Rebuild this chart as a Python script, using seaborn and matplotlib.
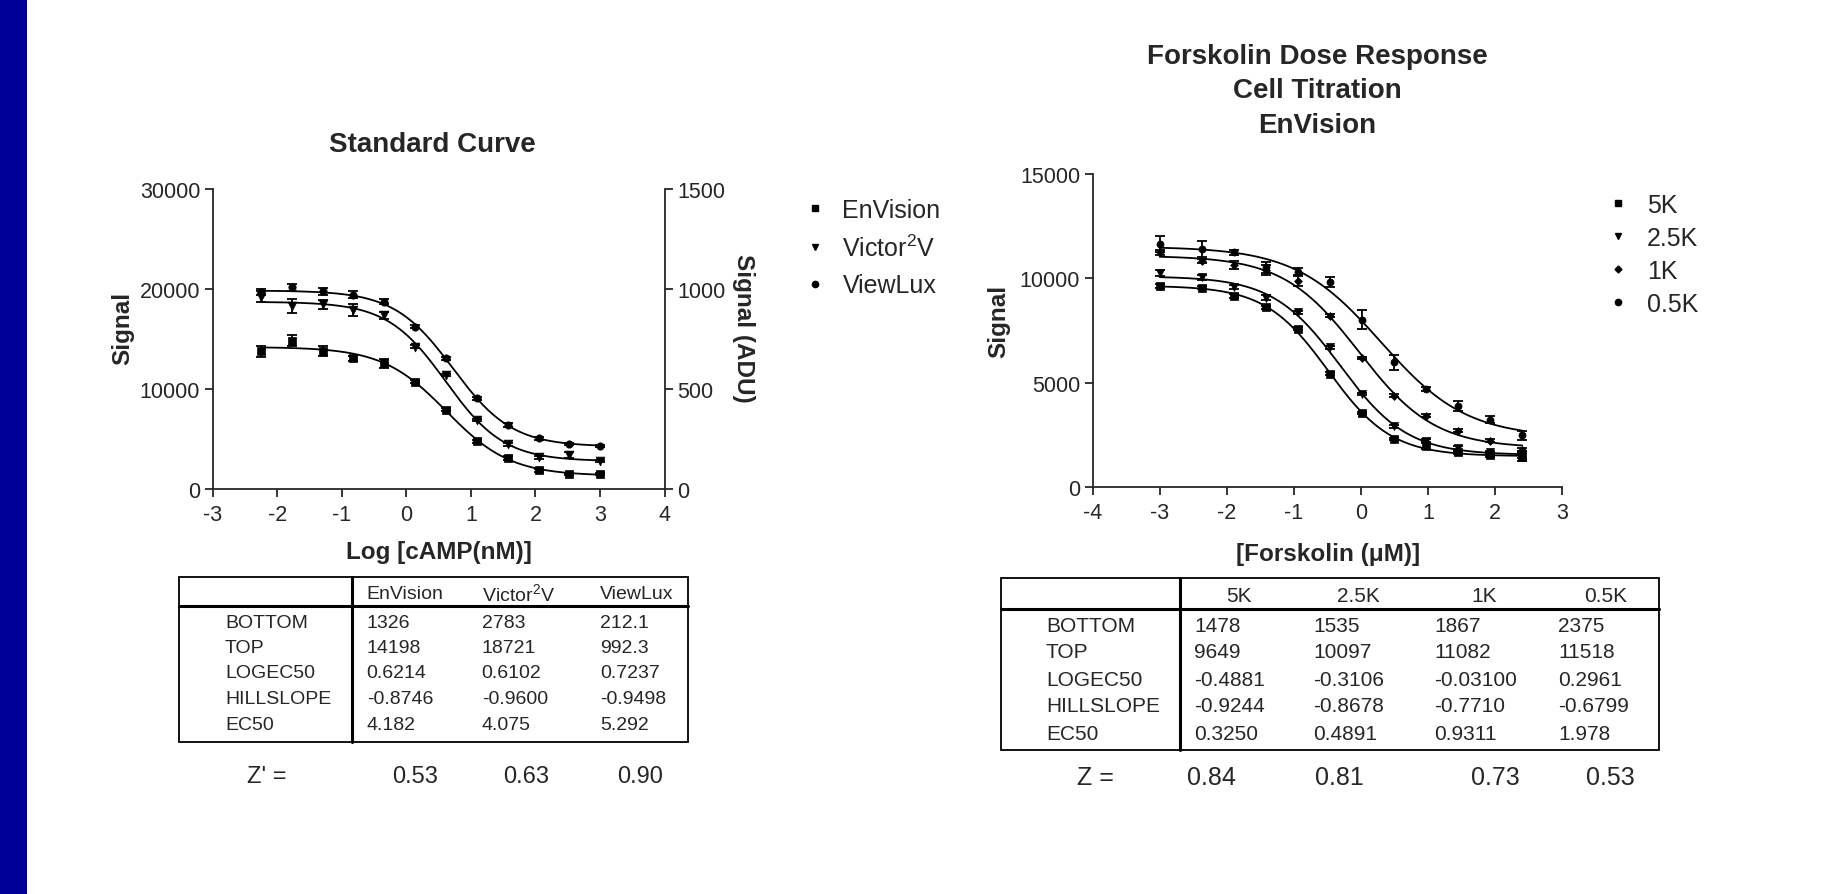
import numpy as np
import pandas as pd
import matplotlib
matplotlib.use('Agg')
import matplotlib.pyplot as plt
import seaborn as sns
from matplotlib.lines import Line2D
from matplotlib.patches import Rectangle

sns.set_style('ticks')
plt.rcParams['font.family'] = ['Liberation Sans', 'DejaVu Sans']
plt.rcParams['axes.unicode_minus'] = False
plt.rcParams['mathtext.fontset'] = 'custom'
plt.rcParams['mathtext.rm'] = 'Liberation Sans'
plt.rcParams['mathtext.it'] = 'Liberation Sans:italic'
plt.rcParams['mathtext.bf'] = 'Liberation Sans:bold'

# standard curve, log [cAMP(nM)]
camp_log = [-2.25, -1.77, -1.29, -0.82, -0.34, 0.14, 0.61, 1.09, 1.57, 2.05, 2.52, 3.00]
envision_sig = [13770, 14830, 13770, 13100, 12570, 10730, 7930, 4770, 3070, 1900, 1500, 1470]
envision_err = [530, 530, 500, 250, 430, 150, 150, 150, 200, 150, 100, 100]
victor_sig = [19230, 18270, 18500, 17900, 17400, 14230, 11400, 6930, 4500, 3170, 3400, 2830]
victor_err = [550, 700, 450, 600, 350, 150, 100, 100, 150, 150, 300, 100]
viewlux_sig = [985, 1008, 988, 972, 937, 812, 653, 453, 322, 253, 225, 213]
viewlux_err = [15, 19, 16, 16, 14, 6, 6, 6, 10, 6, 5, 5]

# forskolin dose response, log [uM]
fsk_log = [-3.00, -2.37, -1.89, -1.42, -0.94, -0.46, 0.01, 0.49, 0.97, 1.45, 1.92, 2.40]
k5_sig = [9650, 9550, 9170, 8610, 7590, 5430, 3550, 2300, 1980, 1660, 1520, 1440]
k5_err = [100, 80, 100, 80, 60, 60, 60, 60, 150, 80, 100, 200]
k25_sig = [10250, 10050, 9580, 9060, 8370, 6690, 4460, 2910, 2220, 1870, 1660, 1550]
k25_err = [150, 120, 100, 120, 60, 60, 60, 60, 60, 80, 60, 150]
k1_sig = [11240, 10840, 10650, 10410, 9890, 8210, 6180, 4380, 3420, 2700, 2220, 1790]
k1_err = [100, 100, 200, 250, 280, 60, 60, 60, 60, 60, 60, 60]
k05_sig = [11660, 11420, 11240, 10520, 10300, 9820, 8020, 5970, 4700, 3870, 3230, 2480]
k05_err = [380, 380, 130, 250, 200, 240, 460, 340, 80, 240, 150, 210]

# fit tables (BOTTOM, TOP, LOGEC50, HILLSLOPE, EC50)
param_names = ['BOTTOM', 'TOP', 'LOGEC50', 'HILLSLOPE', 'EC50']
std_cols = ['EnVision', 'Victor$^2$V', 'ViewLux']
envision_fit = ['1326', '14198', '0.6214', '-0.8746', '4.182']
victor_fit = ['2783', '18721', '0.6102', '-0.9600', '4.075']
viewlux_fit = ['212.1', '992.3', '0.7237', '-0.9498', '5.292']
std_z = ['0.53', '0.63', '0.90']

fsk_cols = ['5K', '2.5K', '1K', '0.5K']
k5_fit = ['1478', '9649', '-0.4881', '-0.9244', '0.3250']
k25_fit = ['1535', '10097', '-0.3106', '-0.8678', '0.4891']
k1_fit = ['1867', '11082', '-0.03100', '-0.7710', '0.9311']
k05_fit = ['2375', '11518', '0.2961', '-0.6799', '1.978']
fsk_z = ['0.84', '0.81', '0.73', '0.53']

W, H = 1845, 895


def fx(px):
    return px / W


def fy(py):
    return 1 - py / H


def fit_line(xs, fit):
    b, t, lec, h = [float(v) for v in fit[:4]]
    xx = np.linspace(min(xs), max(xs), 300)
    yy = b + (t - b) / (1 + 10 ** ((lec - xx) * h))
    return pd.DataFrame({'x': xx, 'y': yy})


def draw_series(ax, xs, ys, err, fit, marker, size):
    curve = fit_line(xs, fit)
    sns.lineplot(data=curve, x='x', y='y', ax=ax, color='k', lw=1.3, zorder=2)
    ax.errorbar(xs, ys, yerr=err, fmt='none', ecolor='k', elinewidth=1.3,
                capsize=3.5, capthick=1.3, zorder=3)
    sns.scatterplot(x=xs, y=ys, ax=ax, marker=marker, s=size, color='k',
                    edgecolor='k', linewidth=0.5, zorder=4)
    ax.set_xlabel('')
    ax.set_ylabel('')


def style_axis(ax):
    ax.spines['top'].set_visible(False)
    for s in ['left', 'bottom', 'right']:
        ax.spines[s].set_linewidth(1.3)
    ax.tick_params(direction='out', length=5.5, width=1.3, labelsize=15.5, pad=3.5)
    ax.tick_params(axis='x', pad=5)


fig = plt.figure(figsize=(W / 100, H / 100), dpi=100)

# overlay for blue bar and tables (pixel coordinates)
ov = fig.add_axes([0, 0, 1, 1])
ov.set_xlim(0, W)
ov.set_ylim(H, 0)
ov.axis('off')
ov.add_patch(Rectangle((0, 0), 27, H, color='#000099', lw=0))

# ---------- standard curve ----------
ax1 = fig.add_axes([fx(212.7), fy(490), (664.6 - 212.7) / W, 300 / H])
ax1r = ax1.twinx()
draw_series(ax1, camp_log, envision_sig, envision_err, envision_fit, 's', 30)
draw_series(ax1, camp_log, victor_sig, victor_err, victor_fit, 'v', 40)
draw_series(ax1r, camp_log, viewlux_sig, viewlux_err, viewlux_fit, 'o', 28)
ax1.set_xlim(-3, 4)
ax1.set_ylim(0, 30000)
ax1r.set_ylim(0, 1500)
ax1.set_xticks(range(-3, 5))
ax1.set_yticks([0, 10000, 20000, 30000])
ax1r.set_yticks([0, 500, 1000, 1500])
ax1.spines['right'].set_visible(False)
style_axis(ax1)
style_axis(ax1r)
ax1r.spines['left'].set_visible(False)
ax1r.spines['bottom'].set_visible(False)
ax1.patch.set_alpha(0)

fig.text(fx(432.5), fy(145), 'Standard Curve', ha='center', va='center',
         fontsize=20, fontweight='bold')
fig.text(fx(438.7), fy(552), 'Log [cAMP(nM)]', ha='center', va='center',
         fontsize=17.5, fontweight='bold')
fig.text(fx(123), fy(328), 'Signal', ha='center', va='center', rotation=90,
         fontsize=17.5, fontweight='bold')
fig.text(fx(744), fy(328), 'Signal (ADU)', ha='center', va='center', rotation=270,
         fontsize=17.5, fontweight='bold')

std_handles = [Line2D([], [], marker=m, ls='none', color='k', markersize=ms)
               for m, ms in zip(['s', 'v', 'o'], [4.5, 5, 4.5])]
fig.legend(std_handles, std_cols, loc='upper left', bbox_to_anchor=(fx(805), fy(199)),
           frameon=False, fontsize=18, handlelength=0.8, handletextpad=0.7,
           borderpad=0, borderaxespad=0, labelspacing=0.5)

# ---------- forskolin ----------
ax2 = fig.add_axes([fx(1092.5), fy(488), (1562.5 - 1092.5) / W, (488 - 175) / H])
draw_series(ax2, fsk_log, k5_sig, k5_err, k5_fit, 's', 26)
draw_series(ax2, fsk_log, k25_sig, k25_err, k25_fit, 'v', 34)
draw_series(ax2, fsk_log, k1_sig, k1_err, k1_fit, 'D', 16)
draw_series(ax2, fsk_log, k05_sig, k05_err, k05_fit, 'o', 26)
ax2.set_xlim(-4, 3)
ax2.set_ylim(0, 15000)
ax2.set_xticks(range(-4, 4))
ax2.set_yticks([0, 5000, 10000, 15000])
ax2.spines['right'].set_visible(False)
style_axis(ax2)

for i, line in enumerate(['Forskolin Dose Response', 'Cell Titration', 'EnVision']):
    fig.text(fx(1317), fy(57 + 34.5 * i), line, ha='center', va='center',
             fontsize=20, fontweight='bold')
fig.text(fx(1328), fy(555), '[Forskolin (\u03bcM)]', ha='center', va='center',
         fontsize=17.5, fontweight='bold')
fig.text(fx(999), fy(321), 'Signal', ha='center', va='center', rotation=90,
         fontsize=17.5, fontweight='bold')

fsk_handles = [Line2D([], [], marker=m, ls='none', color='k', markersize=ms)
               for m, ms in zip(['s', 'v', 'D', 'o'], [4.5, 5, 3.5, 4.5])]
fig.legend(fsk_handles, fsk_cols, loc='upper left', bbox_to_anchor=(fx(1608), fy(194)),
           frameon=False, fontsize=18, handlelength=0.8, handletextpad=0.76,
           borderpad=0, borderaxespad=0, labelspacing=0.36)


# ---------- tables ----------
def draw_table(x0, x1, y0, y1, yh, xdiv, cols, col_x, head_x, head_ha, fits,
               row_x, row_y, z_label, z_lx, z_x, z_y, z_vals, fs, zfs):
    ov.add_patch(Rectangle((x0, y0), x1 - x0, y1 - y0, fill=False, lw=1.3, ec='k'))
    ov.plot([x0, x1], [yh, yh], color='k', lw=2.2)
    ov.plot([xdiv, xdiv], [y0, y1], color='k', lw=2.2)
    for c, hx in zip(cols, head_x):
        ov.text(hx, (y0 + yh) / 2 + 2, c, ha=head_ha, va='center', fontsize=fs)
    for r, (name, ry) in enumerate(zip(param_names, row_y)):
        ov.text(row_x, ry, name, ha='left', va='center', fontsize=fs)
        for fit, cx in zip(fits, col_x):
            ov.text(cx, ry, fit[r], ha='left', va='center', fontsize=fs)
    ov.text(z_lx, z_y, z_label, ha='left', va='center', fontsize=zfs)
    for v, zx in zip(z_vals, z_x):
        ov.text(zx, z_y, v, ha='left', va='center', fontsize=zfs)


draw_table(179, 688, 578, 743, 606.5, 351.5, std_cols,
           [366.7, 481.7, 600], [366.7, 481.7, 600], 'left',
           [envision_fit, victor_fit, viewlux_fit],
           225, [623, 648.5, 674, 699.5, 725], "Z' =", 247, [391.7, 503, 616.7], 777,
           std_z, 14, 17)

draw_table(1001, 1659, 579, 751, 610, 1179.5, fsk_cols,
           [1194, 1313, 1434.5, 1558], [1239, 1358.6, 1484, 1605.8], 'center',
           [k5_fit, k25_fit, k1_fit, k05_fit],
           1046, [627, 653, 680, 707, 734], 'Z =', 1077, [1187, 1315, 1471, 1586], 778,
           fsk_z, 15, 18)

fig.savefig('out.png', dpi=100)
